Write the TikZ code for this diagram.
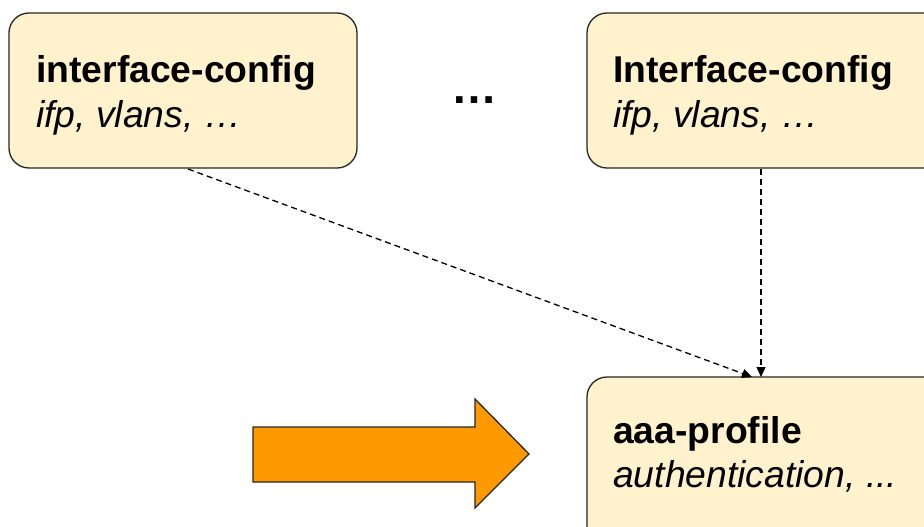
\documentclass[tikz,border=0pt]{standalone}
\usepackage{fontspec}
\setmainfont{Liberation Sans}
\usetikzlibrary{arrows.meta}
\definecolor{boxfill}{HTML}{FFF2CC}
\definecolor{arrowfill}{HTML}{FF9900}
\begin{document}
\begin{tikzpicture}[x=1pt,y=-1pt,
  box/.style={draw=black!85,line width=1.3pt,fill=boxfill,rounded corners=20pt},
  lbl/.style={anchor=base west,inner sep=0pt,font=\fontsize{37.3}{40}\selectfont},
  conn/.style={line width=1.3pt,dash pattern=on 6pt off 4pt,-{Triangle[length=10pt,width=9pt]}}]
\useasboundingbox (0,0) rectangle (924,527);
% boxes
\draw[box] (9,13) rectangle (357,168);
\draw[box] (587,13) rectangle (945,168);
\draw[box] (587,377) rectangle (945,560);
\coordinate (b1) at (188,169);
\coordinate (b2) at (761,169);
\coordinate (t1) at (752,377);
\coordinate (t2) at (761,377);
\node[lbl] (l1a) at (36,82) {\textbf{interface-config}};
\node[lbl] (l1b) at (36,127) {\textit{ifp, vlans, …}};
\node[lbl] (l2a) at (613,82) {\textbf{Interface-config}};
\node[lbl] (l2b) at (613,127) {\textit{ifp, vlans, …}};
\node[lbl] (l3a) at (613,443) {\textbf{aaa-profile}};
\node[lbl] (l3b) at (613,487) {\textit{authentication, ...}};
\node[lbl,font=\fontsize{46}{50}\selectfont] (dots) at (451.5,103) {\textbf{…}};
\draw[conn] (b1) -- (t1);
\draw[conn] (b2) -- (t2);
% big orange arrow
\draw[line width=1.3pt,draw=black!85,fill=arrowfill,line join=miter]
  (253,427) -- (475,427) -- (475,399) -- (529,454) -- (475,508) -- (475,482) -- (253,482) -- cycle;
\end{tikzpicture}
\end{document}
